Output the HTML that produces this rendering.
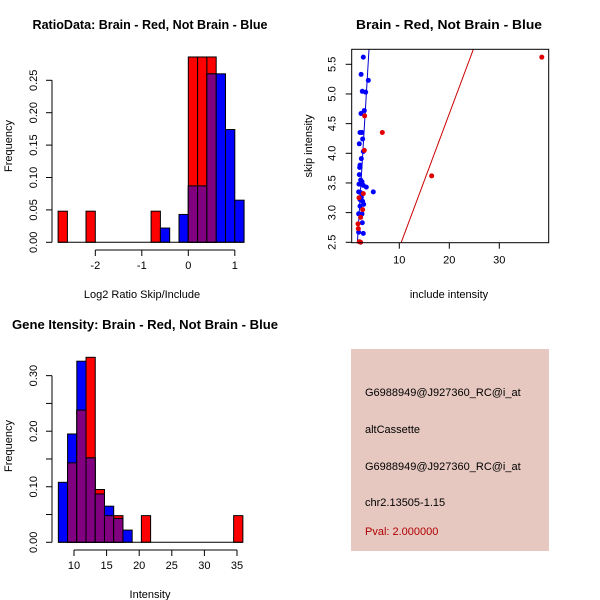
<!DOCTYPE html>
<html><head><meta charset="utf-8"><style>
html,body{margin:0;padding:0;background:#fff;}
svg{display:block;font-family:"Liberation Sans",sans-serif;}
</style></head><body>
<svg id="c" width="600" height="600" xmlns="http://www.w3.org/2000/svg">
<rect width="600" height="600" fill="#fff"/>
<text x="150" y="29" font-size="13" font-weight="bold" text-anchor="middle" textLength="235" lengthAdjust="spacingAndGlyphs">RatioData: Brain - Red, Not Brain - Blue</text>
<text x="449" y="29" font-size="13" font-weight="bold" text-anchor="middle" textLength="186" lengthAdjust="spacingAndGlyphs">Brain - Red, Not Brain - Blue</text>
<text x="145" y="329" font-size="13" font-weight="bold" text-anchor="middle" textLength="266" lengthAdjust="spacingAndGlyphs">Gene Itensity: Brain - Red, Not Brain - Blue</text>
<text x="142" y="298" font-size="11" text-anchor="middle">Log2 Ratio Skip/Include</text>
<text x="449" y="298" font-size="11" text-anchor="middle">include intensity</text>
<text x="150" y="598" font-size="11" text-anchor="middle">Intensity</text>
<text transform="translate(12,146) rotate(-90)" font-size="11" text-anchor="middle">Frequency</text>
<text transform="translate(312,146) rotate(-90)" font-size="11" text-anchor="middle">skip intensity</text>
<text transform="translate(12,446) rotate(-90)" font-size="11" text-anchor="middle">Frequency</text>
<g>
<rect x="351" y="349" width="198" height="202" fill="#E6C8C0"/>
<text x="365" y="396" font-size="11">G6988949@J927360_RC@i_at</text>
<text x="365" y="433" font-size="11">altCassette</text>
<text x="365" y="470" font-size="11">G6988949@J927360_RC@i_at</text>
<text x="365" y="506" font-size="11">chr2.13505-1.15</text>
<text x="365" y="535" font-size="11" fill="#B00000">Pval: 2.000000</text>
</g>
</svg>
<script>
// Ratio histogram data (bins of 0.2 starting at -2.8)
const ratioRed=[0.048,0,0,0.048,0,0,0,0,0,0,0.048,0,0,0,0.286,0.286,0.286,0,0,0];
const ratioBlue=[0,0,0,0,0,0,0,0,0,0,0,0.022,0,0.043,0.087,0.087,0.26,0.26,0.174,0.065];
const ratioYTicks=[0,0.05,0.10,0.15,0.20,0.25];
const ratioXTicks=[-2,-1,0,1];
// Intensity histogram data (bins start 7.6, width 1.415)
const intRed=[0,0.143,0.238,0.333,0.095,0.048,0.048,0,0,0.048,0,0,0,0,0,0,0,0,0,0.048];
const intBlue=[0.108,0.195,0.326,0.152,0.087,0.065,0.043,0.022,0,0,0,0,0,0,0,0,0,0,0,0];
const intYTicks=[0,0.05,0.10,0.15,0.20,0.25,0.30];
const intYLabels=[0,0.10,0.20,0.30];
const intXTicks=[10,15,20,25,30,35];
// Scatter data
const blueX=[2.8,2.36,3.8,2.6,3.27,3.0,2.34,2.14,2.54,2.67,2.0,2.8,2.4,2.14,2.07,2.0,2.27,1.94,2.54,2.8,3.4,4.8,1.87,2.2,2.4,2.14,2.67,2.87,2.14,1.87,2.54,2.6,1.87,2.8];
const blueY=[5.62,5.33,5.23,5.045,5.03,4.72,4.67,4.35,4.35,4.24,4.16,4.03,3.91,3.8,3.76,3.64,3.55,3.48,3.52,3.46,3.43,3.35,3.35,3.34,3.26,3.22,3.19,3.14,3.11,2.98,2.98,2.83,2.67,2.65];
const redX=[38.5,6.6,16.47,3.07,3.0,2.8,2.67,2.27,1.74,1.8,2.0,2.27,1.94];
const redY=[5.62,4.35,3.62,4.63,4.05,3.32,3.05,2.92,2.81,2.73,2.51,2.5,3.25];
const redLine=[0.155,0.2256];
const blueLine=[0.227,1.402];
const scXTicks=[10,20,30];
const scYTicks=[2.5,3.0,3.5,4.0,4.5,5.0,5.5];

const NS="http://www.w3.org/2000/svg";
const svg=document.getElementById('c');
function mk(tag,attrs,parent){const e=document.createElementNS(NS,tag);for(const k in attrs)e.setAttribute(k,attrs[k]);(parent||svg).appendChild(e);return e;}
function txt(s,attrs,parent){const e=mk('text',attrs,parent);e.textContent=s;return e;}
function fmt2(v){return v.toFixed(2);}

function hist(g,red,blue,bx,by,bin0,binW,name){
  for(let i=0;i<red.length;i++){
    const x0=bx(bin0+i*binW),x1=bx(bin0+(i+1)*binW);
    const cols=[[red[i],'#FF0000'],[blue[i],'#0000FF']];
    if(red[i]>0&&blue[i]>0)cols.push([Math.min(red[i],blue[i]),'#800080']);
    cols.forEach(([v,c])=>{
      if(v<=0)return;
      const r=mk('rect',{x:x0,y:by(v),width:x1-x0,height:by(0)-by(v),fill:c,stroke:'#000','stroke-width':1},g);
      
      
    });
  }
  const base=mk('line',{x1:bx(bin0),x2:bx(bin0+red.length*binW),y1:by(0),y2:by(0),stroke:'#000'},g);
  
  
}
function yAxis(g,x,ticks,labels,by,name){
  const ax=mk('line',{x1:x,x2:x,y1:by(ticks[0]),y2:by(ticks[ticks.length-1]),stroke:'#000'},g);
  
  
  ticks.forEach(t=>mk('line',{x1:x-6,x2:x,y1:by(t),y2:by(t),stroke:'#000'},g));
  labels.forEach(t=>{const y=by(t);const e=txt(fmt2(t),{transform:`translate(${x-15},${y}) rotate(-90)`,'font-size':11,'text-anchor':'middle'},g);
    
    });
}
function xAxis(g,y,ticks,bx,name){
  const ax=mk('line',{x1:bx(ticks[0]),x2:bx(ticks[ticks.length-1]),y1:y,y2:y,stroke:'#000'},g);
  
  
  ticks.forEach(t=>{mk('line',{x1:bx(t),x2:bx(t),y1:y,y2:y+6,stroke:'#000'},g);
    const e=txt(String(t),{x:bx(t),y:y+19,'font-size':11,'text-anchor':'middle'},g);
    
    });
}

// Panel 1
const g1=mk('g',{});


const bx1=v=>188.3+v*46.5, by1=v=>242.3-v*648;
hist(g1,ratioRed,ratioBlue,bx1,by1,-2.8,0.2,'ratio');
yAxis(g1,52,ratioYTicks,ratioYTicks,by1,'ratio');
xAxis(g1,250,ratioXTicks,bx1,'ratio');

// Panel 3
const g3=mk('g',{});


const bx3=v=>74+(v-10)*6.52, by3=v=>542.3-v*555.5;
hist(g3,intRed,intBlue,bx3,by3,7.6,1.415,'intensity');
yAxis(g3,52,intYTicks,intYLabels,by3,'intensity');
xAxis(g3,550,intXTicks,bx3,'intensity');

// Panel 2 scatter
const g2=mk('g',{});


const L=351.7,R=548.7,T=49.3,B=242.7;
const sx=v=>349.3+v*5, sy=v=>64.3+(5.5-v)*59.33;
const clip=mk('clipPath',{id:'scClip'},g2);mk('rect',{x:L,y:T,width:R-L,height:B-T},clip);
[[redLine,'#CC0000','red-fit-line'],[blueLine,'#0000CC','blue-fit-line']].forEach(([ln,c,n])=>{
  const y0=2.0,y1=6.2;const x0=(y0-ln[0])/ln[1],x1=(y1-ln[0])/ln[1];
  const e=mk('line',{x1:sx(x0),y1:sy(y0),x2:sx(x1),y2:sy(y1),stroke:c,'stroke-width':1,'clip-path':'url(#scClip)'},g2);
  
  
});
blueX.forEach((v,i)=>{const e=mk('circle',{cx:sx(v),cy:sy(blueY[i]),r:2.5,fill:'#0000FF'},g2);
  
  });
redX.forEach((v,i)=>{const e=mk('circle',{cx:sx(v),cy:sy(redY[i]),r:2.5,fill:'#E00000'},g2);
  
  });
const box=mk('rect',{x:L,y:T,width:R-L,height:B-T,fill:'none',stroke:'#000'},g2);


scYTicks.forEach(t=>{mk('line',{x1:L-6,x2:L,y1:sy(t),y2:sy(t),stroke:'#000'},g2);
  const e=txt(t.toFixed(1),{transform:`translate(${L-16},${sy(t)}) rotate(-90)`,'font-size':11,'text-anchor':'middle'},g2);
  
  });
scXTicks.forEach(t=>{mk('line',{x1:sx(t),x2:sx(t),y1:B,y2:B+6,stroke:'#000'},g2);
  const e=txt(String(t),{x:sx(t),y:B+21,'font-size':11,'text-anchor':'middle'},g2);
  
  });
</script>
</body></html>
